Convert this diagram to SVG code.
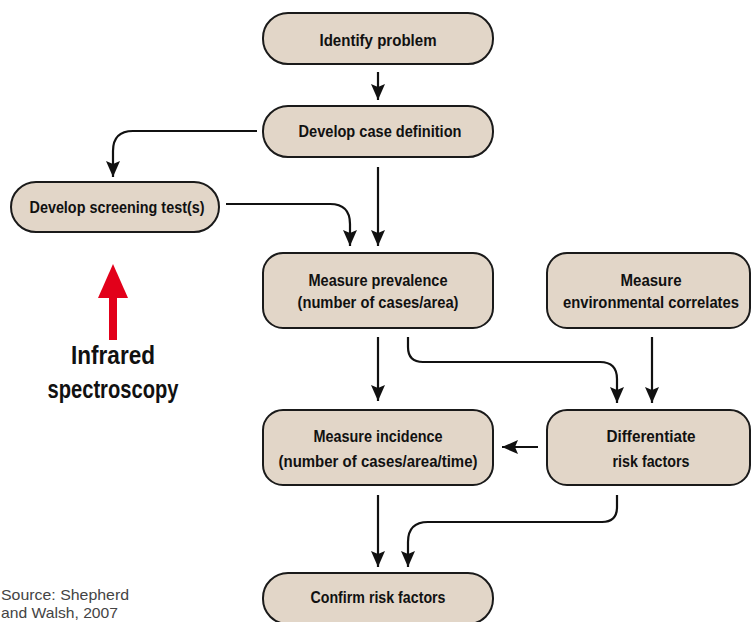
<svg xmlns="http://www.w3.org/2000/svg" width="752" height="622" viewBox="0 0 752 622">
<defs>
<style>
.box{fill:#e2d6c8;stroke:#1a1a1a;stroke-width:2}
.t{font-family:"Liberation Sans",Arial,sans-serif;font-weight:bold;font-size:16px;fill:#111;text-anchor:middle}
.big{font-family:"Liberation Sans",Arial,sans-serif;font-weight:bold;font-size:26px;fill:#111;text-anchor:middle}
.src{font-family:"Liberation Sans",Arial,sans-serif;font-size:15px;fill:#444}
.c{fill:none;stroke:#111;stroke-width:2.2}
</style>
<marker id="ah2" viewBox="0 0 16 14" refX="16" refY="7" markerWidth="16" markerHeight="14" markerUnits="userSpaceOnUse" orient="auto">
<path d="M0,0 L16,7 L0,14 L3,7 Z" fill="#111"/>
</marker>
</defs>
<rect width="752" height="622" fill="#fff"/>
<g id="connectors">
<path class="c" d="M378,72 V100" marker-end="url(#ah2)"/>
<path class="c" d="M257,131 H133 Q113,131 113,151 V177" marker-end="url(#ah2)"/>
<path class="c" d="M378,167 V246" marker-end="url(#ah2)"/>
<path class="c" d="M226,204 H330 Q350,204 350,224 V246" marker-end="url(#ah2)"/>
<path class="c" d="M378,337 V401" marker-end="url(#ah2)"/>
<path class="c" d="M408,337 V347 Q408,362 423,362 H600 Q617,362 617,379 V403" marker-end="url(#ah2)"/>
<path class="c" d="M652,337 V403" marker-end="url(#ah2)"/>
<path class="c" d="M538,447 H502" marker-end="url(#ah2)"/>
<path class="c" d="M378,495 V567" marker-end="url(#ah2)"/>
<path class="c" d="M617,495 V507 Q617,522 602,522 H428 Q408,522 408,542 V567" marker-end="url(#ah2)"/>
</g>
<g id="red-arrow">
<rect x="109" y="292" width="8" height="48" fill="#e2001a"/>
<path d="M98,298 L113,264 L128,298 Z" fill="#e2001a"/>
</g>
<g id="identify">
<rect class="box" x="263" y="13" width="230" height="51" rx="25"/>
<text class="t" x="378" y="46" textLength="117" lengthAdjust="spacingAndGlyphs">Identify problem</text>
</g>
<g id="case-def">
<rect class="box" x="263" y="106" width="230" height="51" rx="25"/>
<text class="t" x="380" y="137" textLength="163" lengthAdjust="spacingAndGlyphs">Develop case definition</text>
</g>
<g id="screening">
<rect class="box" x="11" y="182" width="208" height="50" rx="25"/>
<text class="t" x="117" y="213" textLength="175" lengthAdjust="spacingAndGlyphs">Develop screening test(s)</text>
</g>
<g id="prevalence">
<rect class="box" x="263" y="253" width="230" height="75" rx="20"/>
<text class="t" x="378" y="286" textLength="139" lengthAdjust="spacingAndGlyphs">Measure prevalence</text>
<text class="t" x="378" y="308" textLength="161" lengthAdjust="spacingAndGlyphs">(number of cases/area)</text>
</g>
<g id="environmental">
<rect class="box" x="547" y="253" width="203" height="75" rx="20"/>
<text class="t" x="651" y="286" textLength="61" lengthAdjust="spacingAndGlyphs">Measure</text>
<text class="t" x="651" y="308" textLength="176" lengthAdjust="spacingAndGlyphs">environmental correlates</text>
</g>
<g id="incidence">
<rect class="box" x="263" y="410" width="230" height="75" rx="20"/>
<text class="t" x="378" y="442" textLength="129" lengthAdjust="spacingAndGlyphs">Measure incidence</text>
<text class="t" x="378" y="467" textLength="199" lengthAdjust="spacingAndGlyphs">(number of cases/area/time)</text>
</g>
<g id="differentiate">
<rect class="box" x="547" y="410" width="203" height="75" rx="20"/>
<text class="t" x="651" y="442" textLength="89" lengthAdjust="spacingAndGlyphs">Differentiate</text>
<text class="t" x="651" y="467" textLength="77" lengthAdjust="spacingAndGlyphs">risk factors</text>
</g>
<g id="confirm">
<rect class="box" x="263" y="573" width="230" height="51" rx="25"/>
<text class="t" x="378" y="603" textLength="135" lengthAdjust="spacingAndGlyphs">Confirm risk factors</text>
</g>
<g id="labels">
<text class="big" x="113" y="364" textLength="84" lengthAdjust="spacingAndGlyphs">Infrared</text>
<text class="big" x="113" y="398" textLength="131" lengthAdjust="spacingAndGlyphs">spectroscopy</text>
<text class="src" x="1" y="600" textLength="128" lengthAdjust="spacingAndGlyphs">Source: Shepherd</text>
<text class="src" x="1" y="618" textLength="117" lengthAdjust="spacingAndGlyphs">and Walsh, 2007</text>
</g>
</svg>
